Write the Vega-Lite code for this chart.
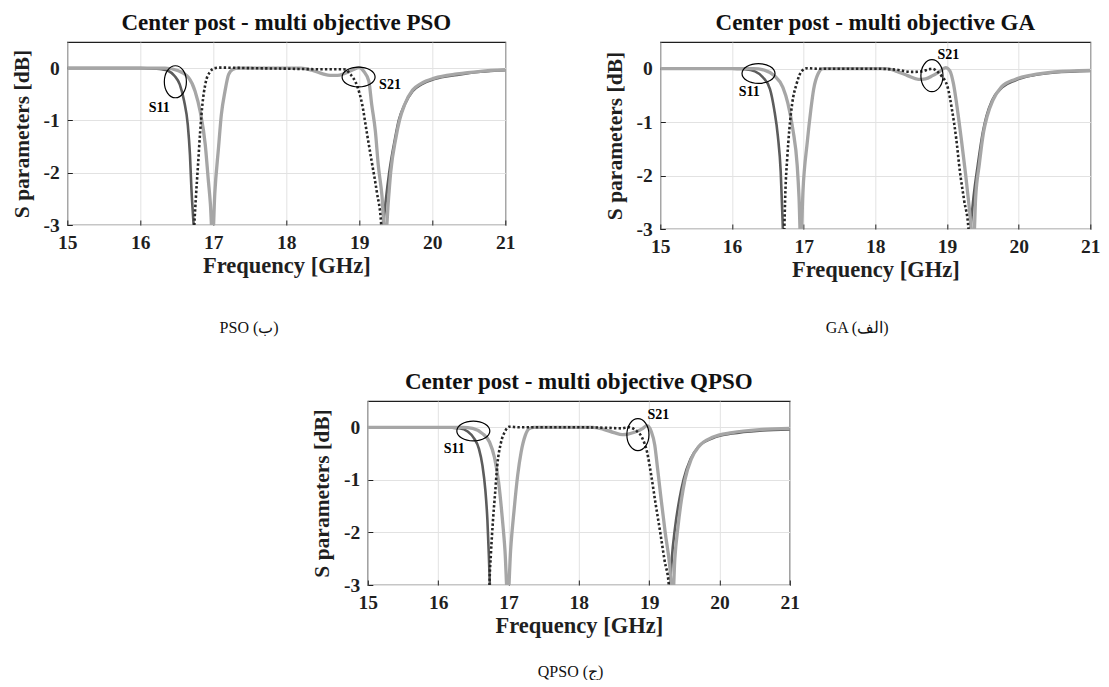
{
  "$schema": "https://vega.github.io/schema/vega-lite/v6.json",
  "background": "white",
  "padding": {"left": 10, "top": 11, "right": 0, "bottom": 0},
  "config": {
    "font": "Liberation Serif",
    "view": {"stroke": "#1f1f1f", "strokeWidth": 1.2},
    "axis": {"labelFont": "Liberation Serif", "labelFontWeight": "bold", "labelFontSize": 19.5, "labelColor": "#1f1f1f", "titleFont": "Liberation Serif", "titleFontWeight": "bold", "titleColor": "#1f1f1f", "gridColor": "#e2e2e2", "gridWidth": 1, "grid": true, "ticks": true, "tickSize": -5, "tickColor": "#1f1f1f", "tickWidth": 1, "domain": false, "labelFlush": false, "labelOverlap": false},
    "axisX": {"labelPadding": 13, "titlePadding": 3, "titleFontSize": 22.5},
    "axisY": {"labelPadding": 13, "titlePadding": 10, "titleFontSize": 21.5},
    "title": {"font": "Liberation Serif", "fontWeight": "bold", "fontSize": 23, "color": "#111111"}
  },
  "datasets": {
    "curves": [
      {"panel":"PSO","curve":"dark","freq":15,"db":0},{"panel":"PSO","curve":"dark","freq":15.5,"db":0},{"panel":"PSO","curve":"dark","freq":16,"db":0},{"panel":"PSO","curve":"dark","freq":16.2,"db":-0.01},{"panel":"PSO","curve":"dark","freq":16.29,"db":-0.02},{"panel":"PSO","curve":"dark","freq":16.38,"db":-0.05},{"panel":"PSO","curve":"dark","freq":16.47,"db":-0.15},{"panel":"PSO","curve":"dark","freq":16.54,"db":-0.31},{"panel":"PSO","curve":"dark","freq":16.6,"db":-0.63},{"panel":"PSO","curve":"dark","freq":16.65,"db":-1.08},{"panel":"PSO","curve":"dark","freq":16.68,"db":-1.66},{"panel":"PSO","curve":"dark","freq":16.7,"db":-2.31},{"panel":"PSO","curve":"dark","freq":16.73,"db":-3},{"panel":"PSO","curve":"dark","freq":16.76,"db":-3.8},{"panel":"PSO","curve":"dark","freq":19.3,"db":-3.8},{"panel":"PSO","curve":"dark","freq":19.33,"db":-3},{"panel":"PSO","curve":"dark","freq":19.365,"db":-2.5},{"panel":"PSO","curve":"dark","freq":19.41,"db":-1.99},{"panel":"PSO","curve":"dark","freq":19.49,"db":-1.34},{"panel":"PSO","curve":"dark","freq":19.54,"db":-1},{"panel":"PSO","curve":"dark","freq":19.62,"db":-0.7},{"panel":"PSO","curve":"dark","freq":19.73,"db":-0.44},{"panel":"PSO","curve":"dark","freq":19.85,"db":-0.31},{"panel":"PSO","curve":"dark","freq":20.03,"db":-0.21},{"panel":"PSO","curve":"dark","freq":20.34,"db":-0.13},{"panel":"PSO","curve":"dark","freq":20.66,"db":-0.07},{"panel":"PSO","curve":"dark","freq":21,"db":-0.04},
      {"panel":"PSO","curve":"light","freq":15,"db":0},{"panel":"PSO","curve":"light","freq":16,"db":0},{"panel":"PSO","curve":"light","freq":16.34,"db":0},{"panel":"PSO","curve":"light","freq":16.52,"db":-0.05},{"panel":"PSO","curve":"light","freq":16.66,"db":-0.18},{"panel":"PSO","curve":"light","freq":16.75,"db":-0.44},{"panel":"PSO","curve":"light","freq":16.82,"db":-0.83},{"panel":"PSO","curve":"light","freq":16.89,"db":-1.47},{"panel":"PSO","curve":"light","freq":16.93,"db":-2.12},{"panel":"PSO","curve":"light","freq":16.96,"db":-2.6},{"panel":"PSO","curve":"light","freq":16.99,"db":-3.3},{"panel":"PSO","curve":"light","freq":17.02,"db":-2.4},{"panel":"PSO","curve":"light","freq":17.07,"db":-1.54},{"panel":"PSO","curve":"light","freq":17.11,"db":-0.89},{"panel":"PSO","curve":"light","freq":17.16,"db":-0.44},{"panel":"PSO","curve":"light","freq":17.21,"db":-0.12},{"panel":"PSO","curve":"light","freq":17.27,"db":-0.02},{"panel":"PSO","curve":"light","freq":17.34,"db":0},{"panel":"PSO","curve":"light","freq":18,"db":0},{"panel":"PSO","curve":"light","freq":18.2,"db":0},{"panel":"PSO","curve":"light","freq":18.35,"db":-0.04},{"panel":"PSO","curve":"light","freq":18.5,"db":-0.11},{"panel":"PSO","curve":"light","freq":18.6,"db":-0.14},{"panel":"PSO","curve":"light","freq":18.7,"db":-0.14},{"panel":"PSO","curve":"light","freq":18.8,"db":-0.1},{"panel":"PSO","curve":"light","freq":18.9,"db":-0.04},{"panel":"PSO","curve":"light","freq":19,"db":0.01},{"panel":"PSO","curve":"light","freq":19.06,"db":-0.06},{"panel":"PSO","curve":"light","freq":19.13,"db":-0.25},{"panel":"PSO","curve":"light","freq":19.17,"db":-0.7},{"panel":"PSO","curve":"light","freq":19.22,"db":-1.21},{"panel":"PSO","curve":"light","freq":19.26,"db":-1.86},{"panel":"PSO","curve":"light","freq":19.31,"db":-2.44},{"panel":"PSO","curve":"light","freq":19.355,"db":-3.3},{"panel":"PSO","curve":"light","freq":19.4,"db":-2.5},{"panel":"PSO","curve":"light","freq":19.43,"db":-1.99},{"panel":"PSO","curve":"light","freq":19.5,"db":-1.34},{"panel":"PSO","curve":"light","freq":19.55,"db":-1},{"panel":"PSO","curve":"light","freq":19.62,"db":-0.7},{"panel":"PSO","curve":"light","freq":19.73,"db":-0.42},{"panel":"PSO","curve":"light","freq":19.85,"db":-0.29},{"panel":"PSO","curve":"light","freq":20.03,"db":-0.19},{"panel":"PSO","curve":"light","freq":20.34,"db":-0.11},{"panel":"PSO","curve":"light","freq":20.66,"db":-0.06},{"panel":"PSO","curve":"light","freq":21,"db":-0.03},
      {"panel":"PSO","curve":"dotted","freq":16.72,"db":-3.8},{"panel":"PSO","curve":"dotted","freq":16.74,"db":-3},{"panel":"PSO","curve":"dotted","freq":16.76,"db":-2.5},{"panel":"PSO","curve":"dotted","freq":16.79,"db":-1.86},{"panel":"PSO","curve":"dotted","freq":16.82,"db":-1.21},{"panel":"PSO","curve":"dotted","freq":16.85,"db":-0.7},{"panel":"PSO","curve":"dotted","freq":16.89,"db":-0.31},{"panel":"PSO","curve":"dotted","freq":16.95,"db":-0.08},{"panel":"PSO","curve":"dotted","freq":17.02,"db":0},{"panel":"PSO","curve":"dotted","freq":17.1,"db":0.01},{"panel":"PSO","curve":"dotted","freq":17.5,"db":0},{"panel":"PSO","curve":"dotted","freq":18,"db":-0.01},{"panel":"PSO","curve":"dotted","freq":18.4,"db":-0.02},{"panel":"PSO","curve":"dotted","freq":18.6,"db":-0.02},{"panel":"PSO","curve":"dotted","freq":18.79,"db":-0.02},{"panel":"PSO","curve":"dotted","freq":18.88,"db":-0.12},{"panel":"PSO","curve":"dotted","freq":18.97,"db":-0.34},{"panel":"PSO","curve":"dotted","freq":19.04,"db":-0.7},{"panel":"PSO","curve":"dotted","freq":19.1,"db":-1.21},{"panel":"PSO","curve":"dotted","freq":19.17,"db":-1.79},{"panel":"PSO","curve":"dotted","freq":19.24,"db":-2.37},{"panel":"PSO","curve":"dotted","freq":19.3,"db":-3},{"panel":"PSO","curve":"dotted","freq":19.32,"db":-3.8},
      {"panel":"GA","curve":"dark","freq":15,"db":0},{"panel":"GA","curve":"dark","freq":16,"db":0},{"panel":"GA","curve":"dark","freq":16.1,"db":-0.005},{"panel":"GA","curve":"dark","freq":16.18,"db":-0.01},{"panel":"GA","curve":"dark","freq":16.32,"db":-0.05},{"panel":"GA","curve":"dark","freq":16.43,"db":-0.16},{"panel":"GA","curve":"dark","freq":16.53,"db":-0.38},{"panel":"GA","curve":"dark","freq":16.59,"db":-0.77},{"panel":"GA","curve":"dark","freq":16.64,"db":-1.26},{"panel":"GA","curve":"dark","freq":16.68,"db":-1.93},{"panel":"GA","curve":"dark","freq":16.71,"db":-3},{"panel":"GA","curve":"dark","freq":16.73,"db":-3.8},{"panel":"GA","curve":"dark","freq":19.3,"db":-3.8},{"panel":"GA","curve":"dark","freq":19.33,"db":-3},{"panel":"GA","curve":"dark","freq":19.37,"db":-2.41},{"panel":"GA","curve":"dark","freq":19.43,"db":-1.8},{"panel":"GA","curve":"dark","freq":19.5,"db":-1.19},{"panel":"GA","curve":"dark","freq":19.55,"db":-0.89},{"panel":"GA","curve":"dark","freq":19.63,"db":-0.59},{"panel":"GA","curve":"dark","freq":19.77,"db":-0.35},{"panel":"GA","curve":"dark","freq":19.95,"db":-0.22},{"panel":"GA","curve":"dark","freq":20.18,"db":-0.13},{"panel":"GA","curve":"dark","freq":20.5,"db":-0.07},{"panel":"GA","curve":"dark","freq":21,"db":-0.04},
      {"panel":"GA","curve":"light","freq":15,"db":0},{"panel":"GA","curve":"light","freq":16,"db":0},{"panel":"GA","curve":"light","freq":16.3,"db":0},{"panel":"GA","curve":"light","freq":16.46,"db":-0.03},{"panel":"GA","curve":"light","freq":16.59,"db":-0.13},{"panel":"GA","curve":"light","freq":16.71,"db":-0.35},{"panel":"GA","curve":"light","freq":16.78,"db":-0.65},{"panel":"GA","curve":"light","freq":16.85,"db":-1.14},{"panel":"GA","curve":"light","freq":16.91,"db":-1.81},{"panel":"GA","curve":"light","freq":16.935,"db":-2.4},{"panel":"GA","curve":"light","freq":16.96,"db":-3.3},{"panel":"GA","curve":"light","freq":16.99,"db":-2.3},{"panel":"GA","curve":"light","freq":17.05,"db":-1.38},{"panel":"GA","curve":"light","freq":17.1,"db":-0.77},{"panel":"GA","curve":"light","freq":17.14,"db":-0.38},{"panel":"GA","curve":"light","freq":17.2,"db":-0.1},{"panel":"GA","curve":"light","freq":17.27,"db":0},{"panel":"GA","curve":"light","freq":18,"db":0},{"panel":"GA","curve":"light","freq":18.15,"db":0},{"panel":"GA","curve":"light","freq":18.3,"db":-0.05},{"panel":"GA","curve":"light","freq":18.45,"db":-0.13},{"panel":"GA","curve":"light","freq":18.6,"db":-0.2},{"panel":"GA","curve":"light","freq":18.7,"db":-0.19},{"panel":"GA","curve":"light","freq":18.8,"db":-0.13},{"panel":"GA","curve":"light","freq":18.9,"db":-0.05},{"panel":"GA","curve":"light","freq":18.98,"db":0.02},{"panel":"GA","curve":"light","freq":19.04,"db":-0.04},{"panel":"GA","curve":"light","freq":19.09,"db":-0.28},{"panel":"GA","curve":"light","freq":19.14,"db":-0.71},{"panel":"GA","curve":"light","freq":19.2,"db":-1.32},{"panel":"GA","curve":"light","freq":19.26,"db":-1.98},{"panel":"GA","curve":"light","freq":19.31,"db":-2.59},{"panel":"GA","curve":"light","freq":19.37,"db":-3.3},{"panel":"GA","curve":"light","freq":19.4,"db":-2.41},{"panel":"GA","curve":"light","freq":19.45,"db":-1.8},{"panel":"GA","curve":"light","freq":19.51,"db":-1.19},{"panel":"GA","curve":"light","freq":19.56,"db":-0.89},{"panel":"GA","curve":"light","freq":19.64,"db":-0.59},{"panel":"GA","curve":"light","freq":19.76,"db":-0.34},{"panel":"GA","curve":"light","freq":19.95,"db":-0.2},{"panel":"GA","curve":"light","freq":20.18,"db":-0.12},{"panel":"GA","curve":"light","freq":20.5,"db":-0.06},{"panel":"GA","curve":"light","freq":21,"db":-0.03},
      {"panel":"GA","curve":"dotted","freq":16.71,"db":-3.8},{"panel":"GA","curve":"dotted","freq":16.73,"db":-3},{"panel":"GA","curve":"dotted","freq":16.745,"db":-2.3},{"panel":"GA","curve":"dotted","freq":16.77,"db":-1.69},{"panel":"GA","curve":"dotted","freq":16.8,"db":-1.14},{"panel":"GA","curve":"dotted","freq":16.84,"db":-0.65},{"panel":"GA","curve":"dotted","freq":16.9,"db":-0.29},{"panel":"GA","curve":"dotted","freq":16.97,"db":-0.05},{"panel":"GA","curve":"dotted","freq":17.05,"db":0.01},{"panel":"GA","curve":"dotted","freq":17.2,"db":0},{"panel":"GA","curve":"dotted","freq":18,"db":0},{"panel":"GA","curve":"dotted","freq":18.3,"db":-0.02},{"panel":"GA","curve":"dotted","freq":18.5,"db":-0.06},{"panel":"GA","curve":"dotted","freq":18.65,"db":-0.05},{"panel":"GA","curve":"dotted","freq":18.75,"db":-0.01},{"panel":"GA","curve":"dotted","freq":18.8,"db":0},{"panel":"GA","curve":"dotted","freq":18.86,"db":-0.05},{"panel":"GA","curve":"dotted","freq":18.92,"db":-0.13},{"panel":"GA","curve":"dotted","freq":19.01,"db":-0.35},{"panel":"GA","curve":"dotted","freq":19.07,"db":-0.77},{"panel":"GA","curve":"dotted","freq":19.13,"db":-1.32},{"panel":"GA","curve":"dotted","freq":19.18,"db":-1.92},{"panel":"GA","curve":"dotted","freq":19.24,"db":-2.47},{"panel":"GA","curve":"dotted","freq":19.3,"db":-3},{"panel":"GA","curve":"dotted","freq":19.32,"db":-3.8},
      {"panel":"QPSO","curve":"dark","freq":15,"db":0},{"panel":"QPSO","curve":"dark","freq":16,"db":0},{"panel":"QPSO","curve":"dark","freq":16.2,"db":-0.01},{"panel":"QPSO","curve":"dark","freq":16.3,"db":-0.02},{"panel":"QPSO","curve":"dark","freq":16.42,"db":-0.08},{"panel":"QPSO","curve":"dark","freq":16.51,"db":-0.21},{"panel":"QPSO","curve":"dark","freq":16.58,"db":-0.41},{"panel":"QPSO","curve":"dark","freq":16.63,"db":-0.73},{"panel":"QPSO","curve":"dark","freq":16.67,"db":-1.18},{"panel":"QPSO","curve":"dark","freq":16.7,"db":-1.76},{"panel":"QPSO","curve":"dark","freq":16.72,"db":-2.41},{"panel":"QPSO","curve":"dark","freq":16.735,"db":-3},{"panel":"QPSO","curve":"dark","freq":16.75,"db":-3.8},{"panel":"QPSO","curve":"dark","freq":19.28,"db":-3.8},{"panel":"QPSO","curve":"dark","freq":19.3,"db":-3},{"panel":"QPSO","curve":"dark","freq":19.32,"db":-2.54},{"panel":"QPSO","curve":"dark","freq":19.37,"db":-1.89},{"panel":"QPSO","curve":"dark","freq":19.43,"db":-1.37},{"panel":"QPSO","curve":"dark","freq":19.49,"db":-0.99},{"panel":"QPSO","curve":"dark","freq":19.59,"db":-0.6},{"panel":"QPSO","curve":"dark","freq":19.7,"db":-0.37},{"panel":"QPSO","curve":"dark","freq":19.9,"db":-0.21},{"panel":"QPSO","curve":"dark","freq":20.18,"db":-0.12},{"panel":"QPSO","curve":"dark","freq":20.61,"db":-0.06},{"panel":"QPSO","curve":"dark","freq":21,"db":-0.04},
      {"panel":"QPSO","curve":"light","freq":15,"db":0},{"panel":"QPSO","curve":"light","freq":16,"db":0},{"panel":"QPSO","curve":"light","freq":16.35,"db":0},{"panel":"QPSO","curve":"light","freq":16.49,"db":-0.02},{"panel":"QPSO","curve":"light","freq":16.63,"db":-0.12},{"panel":"QPSO","curve":"light","freq":16.73,"db":-0.28},{"panel":"QPSO","curve":"light","freq":16.8,"db":-0.57},{"panel":"QPSO","curve":"light","freq":16.86,"db":-1.05},{"panel":"QPSO","curve":"light","freq":16.91,"db":-1.7},{"panel":"QPSO","curve":"light","freq":16.95,"db":-2.34},{"panel":"QPSO","curve":"light","freq":16.99,"db":-3.3},{"panel":"QPSO","curve":"light","freq":17.03,"db":-2.34},{"panel":"QPSO","curve":"light","freq":17.08,"db":-1.57},{"panel":"QPSO","curve":"light","freq":17.13,"db":-0.92},{"panel":"QPSO","curve":"light","freq":17.18,"db":-0.47},{"panel":"QPSO","curve":"light","freq":17.24,"db":-0.15},{"panel":"QPSO","curve":"light","freq":17.29,"db":-0.03},{"panel":"QPSO","curve":"light","freq":17.36,"db":0},{"panel":"QPSO","curve":"light","freq":18,"db":0},{"panel":"QPSO","curve":"light","freq":18.2,"db":0},{"panel":"QPSO","curve":"light","freq":18.35,"db":-0.04},{"panel":"QPSO","curve":"light","freq":18.5,"db":-0.1},{"panel":"QPSO","curve":"light","freq":18.62,"db":-0.14},{"panel":"QPSO","curve":"light","freq":18.7,"db":-0.13},{"panel":"QPSO","curve":"light","freq":18.8,"db":-0.09},{"panel":"QPSO","curve":"light","freq":18.9,"db":-0.03},{"panel":"QPSO","curve":"light","freq":18.97,"db":0.03},{"panel":"QPSO","curve":"light","freq":19.03,"db":-0.08},{"panel":"QPSO","curve":"light","freq":19.08,"db":-0.34},{"panel":"QPSO","curve":"light","freq":19.12,"db":-0.79},{"panel":"QPSO","curve":"light","freq":19.17,"db":-1.37},{"panel":"QPSO","curve":"light","freq":19.23,"db":-2.02},{"panel":"QPSO","curve":"light","freq":19.29,"db":-2.6},{"panel":"QPSO","curve":"light","freq":19.335,"db":-3.3},{"panel":"QPSO","curve":"light","freq":19.365,"db":-2.5},{"panel":"QPSO","curve":"light","freq":19.41,"db":-1.89},{"panel":"QPSO","curve":"light","freq":19.46,"db":-1.37},{"panel":"QPSO","curve":"light","freq":19.51,"db":-0.99},{"panel":"QPSO","curve":"light","freq":19.6,"db":-0.6},{"panel":"QPSO","curve":"light","freq":19.71,"db":-0.36},{"panel":"QPSO","curve":"light","freq":19.9,"db":-0.19},{"panel":"QPSO","curve":"light","freq":20.18,"db":-0.1},{"panel":"QPSO","curve":"light","freq":20.61,"db":-0.04},{"panel":"QPSO","curve":"light","freq":21,"db":-0.02},
      {"panel":"QPSO","curve":"dotted","freq":16.72,"db":-3.8},{"panel":"QPSO","curve":"dotted","freq":16.73,"db":-3},{"panel":"QPSO","curve":"dotted","freq":16.75,"db":-2.41},{"panel":"QPSO","curve":"dotted","freq":16.78,"db":-1.76},{"panel":"QPSO","curve":"dotted","freq":16.81,"db":-1.25},{"panel":"QPSO","curve":"dotted","freq":16.84,"db":-0.73},{"panel":"QPSO","curve":"dotted","freq":16.89,"db":-0.31},{"panel":"QPSO","curve":"dotted","freq":16.95,"db":-0.08},{"panel":"QPSO","curve":"dotted","freq":17.01,"db":0.01},{"panel":"QPSO","curve":"dotted","freq":17.15,"db":0},{"panel":"QPSO","curve":"dotted","freq":18,"db":0},{"panel":"QPSO","curve":"dotted","freq":18.4,"db":-0.01},{"panel":"QPSO","curve":"dotted","freq":18.6,"db":-0.02},{"panel":"QPSO","curve":"dotted","freq":18.72,"db":0},{"panel":"QPSO","curve":"dotted","freq":18.8,"db":-0.05},{"panel":"QPSO","curve":"dotted","freq":18.9,"db":-0.2},{"panel":"QPSO","curve":"dotted","freq":18.97,"db":-0.47},{"panel":"QPSO","curve":"dotted","freq":19.03,"db":-0.92},{"panel":"QPSO","curve":"dotted","freq":19.09,"db":-1.44},{"panel":"QPSO","curve":"dotted","freq":19.16,"db":-2.02},{"panel":"QPSO","curve":"dotted","freq":19.22,"db":-2.54},{"panel":"QPSO","curve":"dotted","freq":19.28,"db":-3},{"panel":"QPSO","curve":"dotted","freq":19.3,"db":-3.8}
    ],
    "notes": [
      {"panel":"PSO","kind":"vertical","freq":16.48,"db":-0.26},{"panel":"PSO","kind":"horizontal","freq":18.99,"db":-0.17},{"panel":"PSO","kind":"label","label":"S11","freq":16.26,"db":-0.76},{"panel":"PSO","kind":"label","label":"S21","freq":19.42,"db":-0.32},
      {"panel":"GA","kind":"horizontal","freq":16.37,"db":-0.09},{"panel":"GA","kind":"vertical","freq":18.79,"db":-0.13},{"panel":"GA","kind":"label","label":"S11","freq":16.24,"db":-0.44},{"panel":"GA","kind":"label","label":"S21","freq":19.02,"db":0.26},
      {"panel":"QPSO","kind":"horizontal","freq":16.5,"db":-0.07},{"panel":"QPSO","kind":"vertical","freq":18.84,"db":-0.14},{"panel":"QPSO","kind":"label","label":"S11","freq":16.23,"db":-0.41},{"panel":"QPSO","kind":"label","label":"S21","freq":19.13,"db":0.23}
    ]
  },
  "spacing": 34,
  "center": true,
  "vconcat": [
    {
      "spacing": 87,
      "hconcat": [
        {
          "title": {"text": "PSO (ب)", "orient": "bottom", "anchor": "middle", "offset": 42, "fontSize": 16, "fontWeight": "normal", "font": "Liberation Serif", "color": "#111111", "dx": -14},
          "vconcat": [
            {
              "width": 438, "height": 183,
              "title": {"text": "Center post - multi objective PSO", "offset": 7},
              "encoding": {
                "x": {"field": "freq", "type": "quantitative", "scale": {"domain": [15, 21], "nice": false, "zero": false}, "axis": {"title": "Frequency [GHz]", "values": [15, 16, 17, 18, 19, 20, 21], "labelExpr": "'' + datum.value"}},
                "y": {"field": "db", "type": "quantitative", "scale": {"domain": [-3, 0.5], "nice": false, "zero": false}, "axis": {"title": "S parameters [dB]", "values": [-3, -2, -1, 0], "labelExpr": "'' + datum.value"}}
              },
              "layer": [
                {"data": {"name": "curves"}, "transform": [{"filter": "datum.panel === 'PSO' && datum.curve === 'dark'"}], "mark": {"type": "line", "color": "#5c5c5c", "strokeWidth": 2.6, "clip": true, "interpolate": "monotone"}},
                {"data": {"name": "curves"}, "transform": [{"filter": "datum.panel === 'PSO' && datum.curve === 'light'"}], "mark": {"type": "line", "color": "#a6a6a6", "strokeWidth": 3.3, "clip": true, "interpolate": "monotone"}},
                {"data": {"name": "curves"}, "transform": [{"filter": "datum.panel === 'PSO' && datum.curve === 'dotted'"}], "mark": {"type": "line", "color": "#262626", "strokeWidth": 2.6, "strokeDash": [2.4, 2.2], "clip": true, "interpolate": "monotone"}},
                {"data": {"name": "notes"}, "transform": [{"filter": "datum.panel === 'PSO' && datum.kind === 'horizontal'"}], "mark": {"type": "point", "shape": "M-1,0 C-1,-0.331 -0.552,-0.6 0,-0.6 C0.552,-0.6 1,-0.331 1,0 C1,0.331 0.552,0.6 0,0.6 C-0.552,0.6 -1,0.331 -1,0 Z", "size": 1089, "filled": false, "stroke": "#000000", "strokeWidth": 1.2, "opacity": 1}},
                {"data": {"name": "notes"}, "transform": [{"filter": "datum.panel === 'PSO' && datum.kind === 'vertical'"}], "mark": {"type": "point", "shape": "M0,-1 C0.381,-1 0.69,-0.552 0.69,0 C0.69,0.552 0.381,1 0,1 C-0.381,1 -0.69,0.552 -0.69,0 C-0.69,-0.552 -0.381,-1 0,-1 Z", "size": 1024, "filled": false, "stroke": "#000000", "strokeWidth": 1.2, "opacity": 1}},
                {"data": {"name": "notes"}, "transform": [{"filter": "datum.panel === 'PSO' && datum.kind === 'label'"}], "mark": {"type": "text", "font": "Liberation Serif", "fontWeight": "bold", "fontSize": 14, "color": "#000000"}, "encoding": {"text": {"field": "label"}}}
              ]
            }
          ]
        },
        {
          "title": {"text": "GA (الف)", "orient": "bottom", "anchor": "middle", "offset": 38, "fontSize": 16, "fontWeight": "normal", "font": "Liberation Serif", "color": "#111111", "dx": 5},
          "vconcat": [
            {
              "width": 430, "height": 187,
              "title": {"text": "Center post - multi objective GA", "offset": 7},
              "encoding": {
                "x": {"field": "freq", "type": "quantitative", "scale": {"domain": [15, 21], "nice": false, "zero": false}, "axis": {"title": "Frequency [GHz]", "values": [15, 16, 17, 18, 19, 20, 21], "labelExpr": "'' + datum.value"}},
                "y": {"field": "db", "type": "quantitative", "scale": {"domain": [-3, 0.5], "nice": false, "zero": false}, "axis": {"title": "S parameters [dB]", "values": [-3, -2, -1, 0], "labelExpr": "'' + datum.value"}}
              },
              "layer": [
                {"data": {"name": "curves"}, "transform": [{"filter": "datum.panel === 'GA' && datum.curve === 'dark'"}], "mark": {"type": "line", "color": "#5c5c5c", "strokeWidth": 2.6, "clip": true, "interpolate": "monotone"}},
                {"data": {"name": "curves"}, "transform": [{"filter": "datum.panel === 'GA' && datum.curve === 'light'"}], "mark": {"type": "line", "color": "#a6a6a6", "strokeWidth": 3.3, "clip": true, "interpolate": "monotone"}},
                {"data": {"name": "curves"}, "transform": [{"filter": "datum.panel === 'GA' && datum.curve === 'dotted'"}], "mark": {"type": "line", "color": "#262626", "strokeWidth": 2.6, "strokeDash": [2.4, 2.2], "clip": true, "interpolate": "monotone"}},
                {"data": {"name": "notes"}, "transform": [{"filter": "datum.panel === 'GA' && datum.kind === 'horizontal'"}], "mark": {"type": "point", "shape": "M-1,0 C-1,-0.331 -0.552,-0.6 0,-0.6 C0.552,-0.6 1,-0.331 1,0 C1,0.331 0.552,0.6 0,0.6 C-0.552,0.6 -1,0.331 -1,0 Z", "size": 1089, "filled": false, "stroke": "#000000", "strokeWidth": 1.2, "opacity": 1}},
                {"data": {"name": "notes"}, "transform": [{"filter": "datum.panel === 'GA' && datum.kind === 'vertical'"}], "mark": {"type": "point", "shape": "M0,-1 C0.381,-1 0.69,-0.552 0.69,0 C0.69,0.552 0.381,1 0,1 C-0.381,1 -0.69,0.552 -0.69,0 C-0.69,-0.552 -0.381,-1 0,-1 Z", "size": 1024, "filled": false, "stroke": "#000000", "strokeWidth": 1.2, "opacity": 1}},
                {"data": {"name": "notes"}, "transform": [{"filter": "datum.panel === 'GA' && datum.kind === 'label'"}], "mark": {"type": "text", "font": "Liberation Serif", "fontWeight": "bold", "fontSize": 14, "color": "#000000"}, "encoding": {"text": {"field": "label"}}}
              ]
            }
          ]
        }
      ]
    },
    {
      "title": {"text": "QPSO (ج)", "orient": "bottom", "anchor": "middle", "offset": 26, "fontSize": 16, "fontWeight": "normal", "font": "Liberation Serif", "color": "#111111", "dx": 15},
      "vconcat": [
        {
          "width": 422, "height": 184,
          "title": {"text": "Center post - multi objective QPSO", "offset": 7},
          "encoding": {
            "x": {"field": "freq", "type": "quantitative", "scale": {"domain": [15, 21], "nice": false, "zero": false}, "axis": {"title": "Frequency [GHz]", "values": [15, 16, 17, 18, 19, 20, 21], "labelExpr": "'' + datum.value"}},
            "y": {"field": "db", "type": "quantitative", "scale": {"domain": [-3, 0.5], "nice": false, "zero": false}, "axis": {"title": "S parameters [dB]", "values": [-3, -2, -1, 0], "labelExpr": "'' + datum.value"}}
          },
          "layer": [
            {"data": {"name": "curves"}, "transform": [{"filter": "datum.panel === 'QPSO' && datum.curve === 'dark'"}], "mark": {"type": "line", "color": "#5c5c5c", "strokeWidth": 2.6, "clip": true, "interpolate": "monotone"}},
            {"data": {"name": "curves"}, "transform": [{"filter": "datum.panel === 'QPSO' && datum.curve === 'light'"}], "mark": {"type": "line", "color": "#a6a6a6", "strokeWidth": 3.3, "clip": true, "interpolate": "monotone"}},
            {"data": {"name": "curves"}, "transform": [{"filter": "datum.panel === 'QPSO' && datum.curve === 'dotted'"}], "mark": {"type": "line", "color": "#262626", "strokeWidth": 2.6, "strokeDash": [2.4, 2.2], "clip": true, "interpolate": "monotone"}},
            {"data": {"name": "notes"}, "transform": [{"filter": "datum.panel === 'QPSO' && datum.kind === 'horizontal'"}], "mark": {"type": "point", "shape": "M-1,0 C-1,-0.331 -0.552,-0.6 0,-0.6 C0.552,-0.6 1,-0.331 1,0 C1,0.331 0.552,0.6 0,0.6 C-0.552,0.6 -1,0.331 -1,0 Z", "size": 1089, "filled": false, "stroke": "#000000", "strokeWidth": 1.2, "opacity": 1}},
            {"data": {"name": "notes"}, "transform": [{"filter": "datum.panel === 'QPSO' && datum.kind === 'vertical'"}], "mark": {"type": "point", "shape": "M0,-1 C0.381,-1 0.69,-0.552 0.69,0 C0.69,0.552 0.381,1 0,1 C-0.381,1 -0.69,0.552 -0.69,0 C-0.69,-0.552 -0.381,-1 0,-1 Z", "size": 1024, "filled": false, "stroke": "#000000", "strokeWidth": 1.2, "opacity": 1}},
            {"data": {"name": "notes"}, "transform": [{"filter": "datum.panel === 'QPSO' && datum.kind === 'label'"}], "mark": {"type": "text", "font": "Liberation Serif", "fontWeight": "bold", "fontSize": 14, "color": "#000000"}, "encoding": {"text": {"field": "label"}}}
          ]
        }
      ]
    }
  ]
}
